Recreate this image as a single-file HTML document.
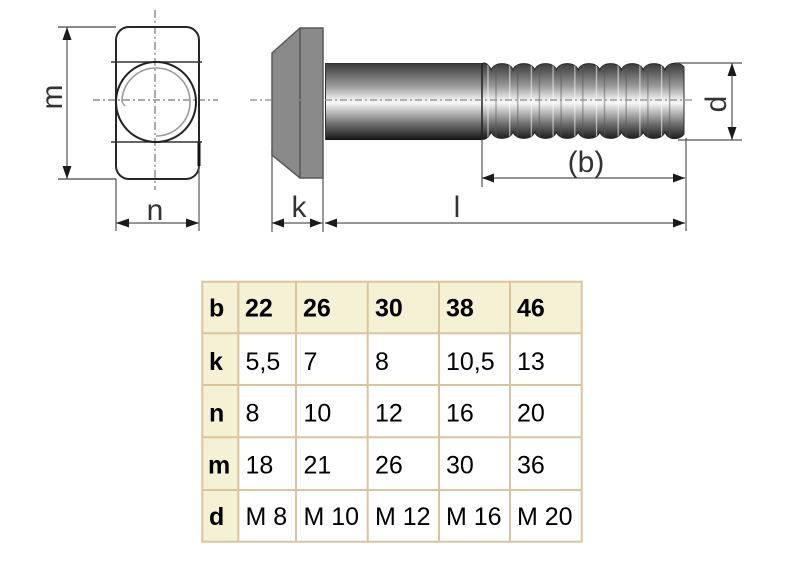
<!DOCTYPE html>
<html>
<head>
<meta charset="utf-8">
<style>
  html,body{margin:0;padding:0;background:#fff;}
  body{width:812px;height:562px;overflow:hidden;}
  svg{display:block;}
  .lbl{font-family:"Liberation Sans",Arial,sans-serif;font-size:30px;fill:#333;}
  .t{font-family:"Liberation Sans",Arial,sans-serif;font-size:25px;fill:#000;}
  .b{font-weight:bold;}
</style>
</head>
<body>
<svg width="812" height="562" viewBox="0 0 812 562" xmlns="http://www.w3.org/2000/svg">
  <defs>
    <linearGradient id="cyl" gradientUnits="userSpaceOnUse" x1="0" y1="63" x2="0" y2="140">
      <stop offset="0" stop-color="#3a3a3a"/>
      <stop offset="0.12" stop-color="#5e5e5e"/>
      <stop offset="0.30" stop-color="#9a9a9a"/>
      <stop offset="0.47" stop-color="#ececec"/>
      <stop offset="0.52" stop-color="#f6f6f6"/>
      <stop offset="0.62" stop-color="#c4c4c4"/>
      <stop offset="0.80" stop-color="#6a6a6a"/>
      <stop offset="1" stop-color="#161616"/>
    </linearGradient>
    <clipPath id="thr">
      <path d="M482,64 C484,62 488,63 491.3,70 C493.8,61.5 510.5,61.5 513,70 C515.5,61.5 532.2,61.5 534.7,70 C537.2,61.5 553.9,61.5 556.4,70 C558.9,61.5 575.6,61.5 578.1,70 C580.6,61.5 597.3,61.5 599.8,70 C602.3,61.5 619,61.5 621.5,70 C624,61.5 640.7,61.5 643.2,70 C645.7,61.5 662.4,61.5 664.9,70 C667.4,61.5 680,61.5 684,67 L684,134 C680,140.5 667.4,140.5 664.9,132 C662.4,140.5 645.7,140.5 643.2,132 C640.7,140.5 624,140.5 621.5,132 C619,140.5 602.3,140.5 599.8,132 C597.3,140.5 580.6,140.5 578.1,132 C575.6,140.5 558.9,140.5 556.4,132 C553.9,140.5 537.2,140.5 534.7,132 C532.2,140.5 515.5,140.5 513,132 C510.5,140.5 493.8,140.5 491.3,132 C488,139 484,140 482,139 Z"/>
    </clipPath>
  </defs>

  <!-- ================= NUT (end view) ================= -->
  <line x1="155" y1="10" x2="155" y2="190" stroke="#555" stroke-width="1" stroke-dasharray="8 3 2 3"/>
  <line x1="93" y1="100" x2="218" y2="100" stroke="#777" stroke-width="1.2" stroke-dasharray="7 3 2 3"/>
  <rect x="116" y="27" width="83" height="152" rx="13" ry="13" fill="none" stroke="#262626" stroke-width="2"/>
  <line x1="199" y1="141" x2="199" y2="166" stroke="#111" stroke-width="3"/>
  <line x1="111" y1="62" x2="202" y2="62" stroke="#333" stroke-width="1.4"/>
  <line x1="111" y1="142" x2="202" y2="142" stroke="#333" stroke-width="1.4"/>
  <circle cx="156" cy="102" r="40" fill="none" stroke="#222" stroke-width="2"/>
  <path d="M122,102 A34,34 0 1 1 156,136" fill="none" stroke="#9a9a9a" stroke-width="1.6"/>
  <line x1="122" y1="102" x2="125" y2="106" stroke="#9a9a9a" stroke-width="1.4"/>

  <!-- m dimension -->
  <line x1="58" y1="27" x2="116" y2="27" stroke="#444" stroke-width="1.2"/>
  <line x1="58" y1="179" x2="116" y2="179" stroke="#444" stroke-width="1.2"/>
  <line x1="67" y1="27" x2="67" y2="179" stroke="#555" stroke-width="1.2"/>
  <polygon points="67,27 62.5,40 71.5,40" fill="#1a1a1a"/>
  <polygon points="67,179 62.5,166 71.5,166" fill="#1a1a1a"/>
  <text class="lbl" text-anchor="middle" transform="translate(62,97) rotate(-90)">m</text>

  <!-- n dimension -->
  <line x1="116" y1="179" x2="116" y2="231" stroke="#555" stroke-width="1.2"/>
  <line x1="199" y1="166" x2="199" y2="231" stroke="#555" stroke-width="1.2"/>
  <line x1="116" y1="223" x2="199" y2="223" stroke="#555" stroke-width="1.2"/>
  <polygon points="116,223 129,218.5 129,227.5" fill="#1a1a1a"/>
  <polygon points="199,223 186,218.5 186,227.5" fill="#1a1a1a"/>
  <text class="lbl" x="155" y="220" text-anchor="middle">n</text>

  <!-- ================= BOLT (side view) ================= -->
  <polygon points="272,53 300,28 323,28 323,178 300,178 272,155" fill="#8a8a8a" stroke="#5a5a5a" stroke-width="1.5"/>
  <line x1="300" y1="28" x2="300" y2="178" stroke="#555" stroke-width="1.5"/>

  <rect x="325" y="63" width="157" height="77" fill="url(#cyl)"/>
  <line x1="325" y1="63.5" x2="482" y2="63.5" stroke="#333" stroke-width="1"/>
  <line x1="325" y1="139.5" x2="482" y2="139.5" stroke="#111" stroke-width="1"/>
  <line x1="325.5" y1="63" x2="325.5" y2="140" stroke="#333" stroke-width="1"/>

  <path d="M482,64 C484,62 488,63 491.3,70 C493.8,61.5 510.5,61.5 513,70 C515.5,61.5 532.2,61.5 534.7,70 C537.2,61.5 553.9,61.5 556.4,70 C558.9,61.5 575.6,61.5 578.1,70 C580.6,61.5 597.3,61.5 599.8,70 C602.3,61.5 619,61.5 621.5,70 C624,61.5 640.7,61.5 643.2,70 C645.7,61.5 662.4,61.5 664.9,70 C667.4,61.5 680,61.5 684,67 L684,134 C680,140.5 667.4,140.5 664.9,132 C662.4,140.5 645.7,140.5 643.2,132 C640.7,140.5 624,140.5 621.5,132 C619,140.5 602.3,140.5 599.8,132 C597.3,140.5 580.6,140.5 578.1,132 C575.6,140.5 558.9,140.5 556.4,132 C553.9,140.5 537.2,140.5 534.7,132 C532.2,140.5 515.5,140.5 513,132 C510.5,140.5 493.8,140.5 491.3,132 C488,139 484,140 482,139 Z" fill="url(#cyl)" stroke="#2a2a2a" stroke-width="1"/>
  <g clip-path="url(#thr)" stroke-width="1.3">
    <g stroke="#ffffff" stroke-opacity="0.55">
      <line x1="488" y1="60" x2="488" y2="142"/>
      <line x1="509.7" y1="60" x2="509.7" y2="142"/>
      <line x1="531.4" y1="60" x2="531.4" y2="142"/>
      <line x1="553.1" y1="60" x2="553.1" y2="142"/>
      <line x1="574.8" y1="60" x2="574.8" y2="142"/>
      <line x1="596.5" y1="60" x2="596.5" y2="142"/>
      <line x1="618.2" y1="60" x2="618.2" y2="142"/>
      <line x1="639.9" y1="60" x2="639.9" y2="142"/>
      <line x1="661.6" y1="60" x2="661.6" y2="142"/>
    </g>
    <g stroke="#555" stroke-opacity="0.5">
      <line x1="496" y1="60" x2="496" y2="142"/>
      <line x1="517.7" y1="60" x2="517.7" y2="142"/>
      <line x1="539.4" y1="60" x2="539.4" y2="142"/>
      <line x1="561.1" y1="60" x2="561.1" y2="142"/>
      <line x1="582.8" y1="60" x2="582.8" y2="142"/>
      <line x1="604.5" y1="60" x2="604.5" y2="142"/>
      <line x1="626.2" y1="60" x2="626.2" y2="142"/>
      <line x1="647.9" y1="60" x2="647.9" y2="142"/>
      <line x1="669.6" y1="60" x2="669.6" y2="142"/>
    </g>
  </g>
  <line x1="482" y1="63" x2="482" y2="140" stroke="#222" stroke-width="1.5"/>

  <line x1="250" y1="100" x2="693" y2="100" stroke="#8a8a8a" stroke-width="1.3" stroke-dasharray="7 3 2 3"/>

  <!-- k & l dimensions -->
  <line x1="272" y1="150" x2="272" y2="232" stroke="#555" stroke-width="1.2"/>
  <line x1="323" y1="178" x2="323" y2="232" stroke="#555" stroke-width="1.2"/>
  <line x1="686" y1="138" x2="686" y2="231" stroke="#555" stroke-width="1.2"/>
  <line x1="272" y1="223" x2="323" y2="223" stroke="#555" stroke-width="1.2"/>
  <polygon points="272,223 284,218.5 284,227.5" fill="#1a1a1a"/>
  <polygon points="322,223 310,218.5 310,227.5" fill="#1a1a1a"/>
  <line x1="325" y1="223" x2="685" y2="223" stroke="#555" stroke-width="1.2"/>
  <polygon points="325,223 337,218.5 337,227.5" fill="#1a1a1a"/>
  <polygon points="685,223 673,218.5 673,227.5" fill="#1a1a1a"/>
  <text class="lbl" x="299" y="217" text-anchor="middle">k</text>
  <text class="lbl" x="457" y="217" text-anchor="middle">l</text>

  <!-- (b) dimension -->
  <line x1="482" y1="140" x2="482" y2="187" stroke="#555" stroke-width="1.2"/>
  <line x1="482" y1="178" x2="685" y2="178" stroke="#555" stroke-width="1.2"/>
  <polygon points="482,178 494,173.5 494,182.5" fill="#1a1a1a"/>
  <polygon points="685,178 673,173.5 673,182.5" fill="#1a1a1a"/>
  <text class="lbl" x="586" y="172" text-anchor="middle">(b)</text>

  <!-- d dimension -->
  <line x1="676" y1="63" x2="742" y2="63" stroke="#555" stroke-width="1.2"/>
  <line x1="678" y1="140" x2="742" y2="140" stroke="#555" stroke-width="1.2"/>
  <line x1="732" y1="63" x2="732" y2="140" stroke="#555" stroke-width="1.2"/>
  <polygon points="732,63 727.5,76 736.5,76" fill="#1a1a1a"/>
  <polygon points="732,140 727.5,127 736.5,127" fill="#1a1a1a"/>
  <text class="lbl" text-anchor="middle" transform="translate(726,104) rotate(-90)">d</text>

  <!-- ================= TABLE ================= -->
  <rect x="202.3" y="281.7" width="379.4" height="260" fill="#ffffff"/>
  <rect x="202.3" y="281.7" width="379.4" height="51.6" fill="#f5f1d5"/>
  <rect x="202.3" y="281.7" width="36" height="260" fill="#f5f1d5"/>
  <g stroke="#d8c59c" stroke-width="2" fill="none">
    <rect x="202.3" y="281.7" width="379.4" height="260"/>
    <line x1="238.3" y1="281.7" x2="238.3" y2="541.7"/>
    <line x1="296" y1="281.7" x2="296" y2="541.7"/>
    <line x1="367.7" y1="281.7" x2="367.7" y2="541.7"/>
    <line x1="439" y1="281.7" x2="439" y2="541.7"/>
    <line x1="510" y1="281.7" x2="510" y2="541.7"/>
    <line x1="202.3" y1="333.3" x2="581.7" y2="333.3"/>
    <line x1="202.3" y1="385" x2="581.7" y2="385"/>
    <line x1="202.3" y1="437.3" x2="581.7" y2="437.3"/>
    <line x1="202.3" y1="490" x2="581.7" y2="490"/>
  </g>
  <text class="t b" x="209" y="316.7">b</text>
  <text class="t b" x="245" y="316.7">22</text>
  <text class="t b" x="303" y="316.7">26</text>
  <text class="t b" x="375" y="316.7">30</text>
  <text class="t b" x="446" y="316.7">38</text>
  <text class="t b" x="517" y="316.7">46</text>

  <text class="t b" x="209" y="370">k</text>
  <text class="t" x="245.5" y="370">5,5</text>
  <text class="t" x="303.5" y="370">7</text>
  <text class="t" x="375" y="370">8</text>
  <text class="t" x="446" y="370">10,5</text>
  <text class="t" x="517" y="370">13</text>

  <text class="t b" x="209" y="421.7">n</text>
  <text class="t" x="245.5" y="421.7">8</text>
  <text class="t" x="303.5" y="421.7">10</text>
  <text class="t" x="375" y="421.7">12</text>
  <text class="t" x="446" y="421.7">16</text>
  <text class="t" x="517" y="421.7">20</text>

  <text class="t b" x="208" y="473.3">m</text>
  <text class="t" x="245.5" y="473.3">18</text>
  <text class="t" x="303.5" y="473.3">21</text>
  <text class="t" x="375" y="473.3">26</text>
  <text class="t" x="446" y="473.3">30</text>
  <text class="t" x="517" y="473.3">36</text>

  <text class="t b" x="209" y="525">d</text>
  <text class="t" x="245.5" y="525">M 8</text>
  <text class="t" x="303.5" y="525">M 10</text>
  <text class="t" x="375" y="525">M 12</text>
  <text class="t" x="446" y="525">M 16</text>
  <text class="t" x="517" y="525">M 20</text>
</svg>
</body>
</html>
